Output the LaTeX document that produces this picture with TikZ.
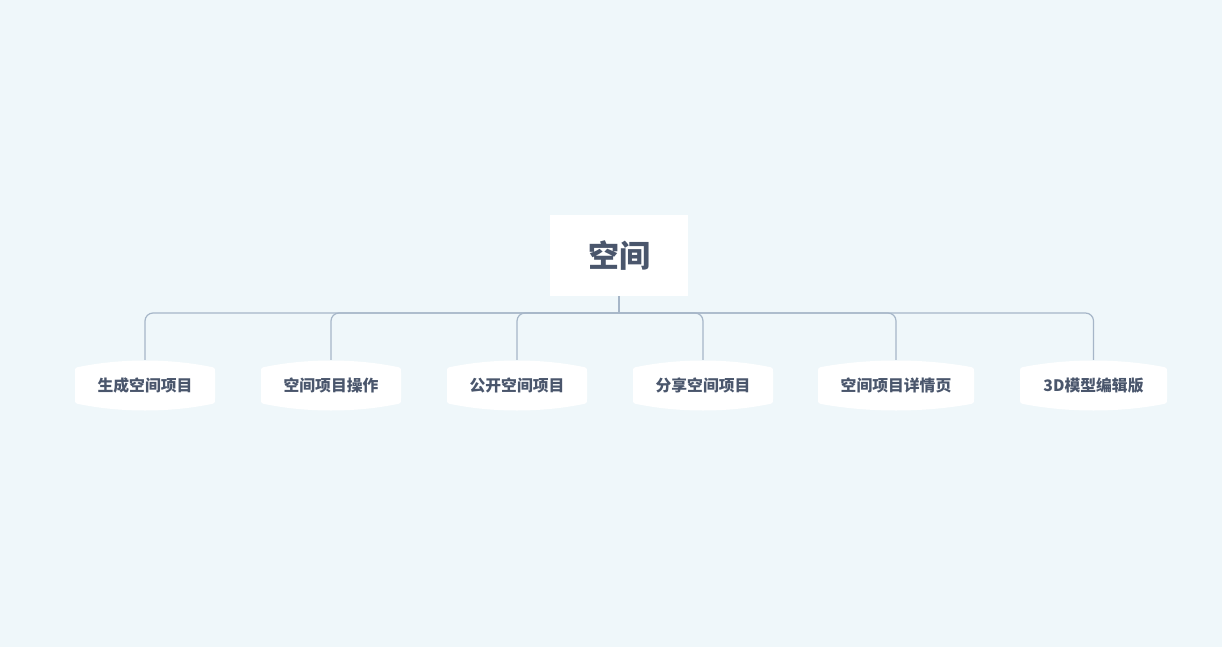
\documentclass[tikz,border=0pt]{standalone}
\usepackage{fontspec}
\newfontfamily\cjk{Noto Sans CJK SC}
\usetikzlibrary{backgrounds}
\definecolor{bgc}{RGB}{239,247,250}
\definecolor{txt}{RGB}{74,86,108}
\definecolor{linec}{RGB}{166,182,200}
\tikzset{
  rootbox/.style={fill=white, minimum width=138pt, minimum height=81pt, inner sep=0pt, text=txt, font=\cjk\bfseries\fontsize{31}{34}\selectfont},
  childbox/.style={minimum height=51pt, inner sep=0pt, text=txt, font=\cjk\bfseries\fontsize{15.8}{18}\selectfont},
  conn/.style={draw=linec, line width=1.2pt},
}
\begin{document}
\begin{tikzpicture}[x=1pt,y=-1pt]
\begin{pgfonlayer}{background}
\fill[bgc] (0,0) rectangle (1222,647);
\end{pgfonlayer}
\useasboundingbox (0,0) rectangle (1222,647);

\node[rootbox] (root) at (619,255.5) {空间};

\node[childbox, minimum width=140pt] (c1) at (145,385.5) {生成空间项目};
\node[childbox, minimum width=140pt] (c2) at (331,385.5) {空间项目操作};
\node[childbox, minimum width=140pt] (c3) at (517,385.5) {公开空间项目};
\node[childbox, minimum width=140pt] (c4) at (703,385.5) {分享空间项目};
\node[childbox, minimum width=156pt] (c5) at (896,385.5) {空间项目详情页};
\node[childbox, minimum width=147pt] (c6) at (1093.5,385.5) {3D模型编辑版};

\begin{pgfonlayer}{background}
\foreach \n/\a in {c1/70, c2/70, c3/70, c4/70, c5/78, c6/73.5} {
  \fill[white, shift={(\n)}]
    (-\a,-13) .. controls (-\a,-18) .. ({-\a+6},-19)
    .. controls ({-\a/3},-27) and ({\a/3},-27) .. ({\a-6},-19)
    .. controls (\a,-18) .. (\a,-13)
    -- (\a,13)
    .. controls (\a,18) .. ({\a-6},19)
    .. controls ({\a/3},27) and ({-\a/3},27) .. ({-\a+6},19)
    .. controls (-\a,18) .. (-\a,13) -- cycle;
}
\end{pgfonlayer}

\coordinate (j) at (619,313);
\draw[conn] (root.south) -- (j);
\foreach \n in {c1,c2,c3,c4,c5,c6} {
  \draw[conn, rounded corners=8pt] (j) -| (\n.north);
}
\end{tikzpicture}
\end{document}
